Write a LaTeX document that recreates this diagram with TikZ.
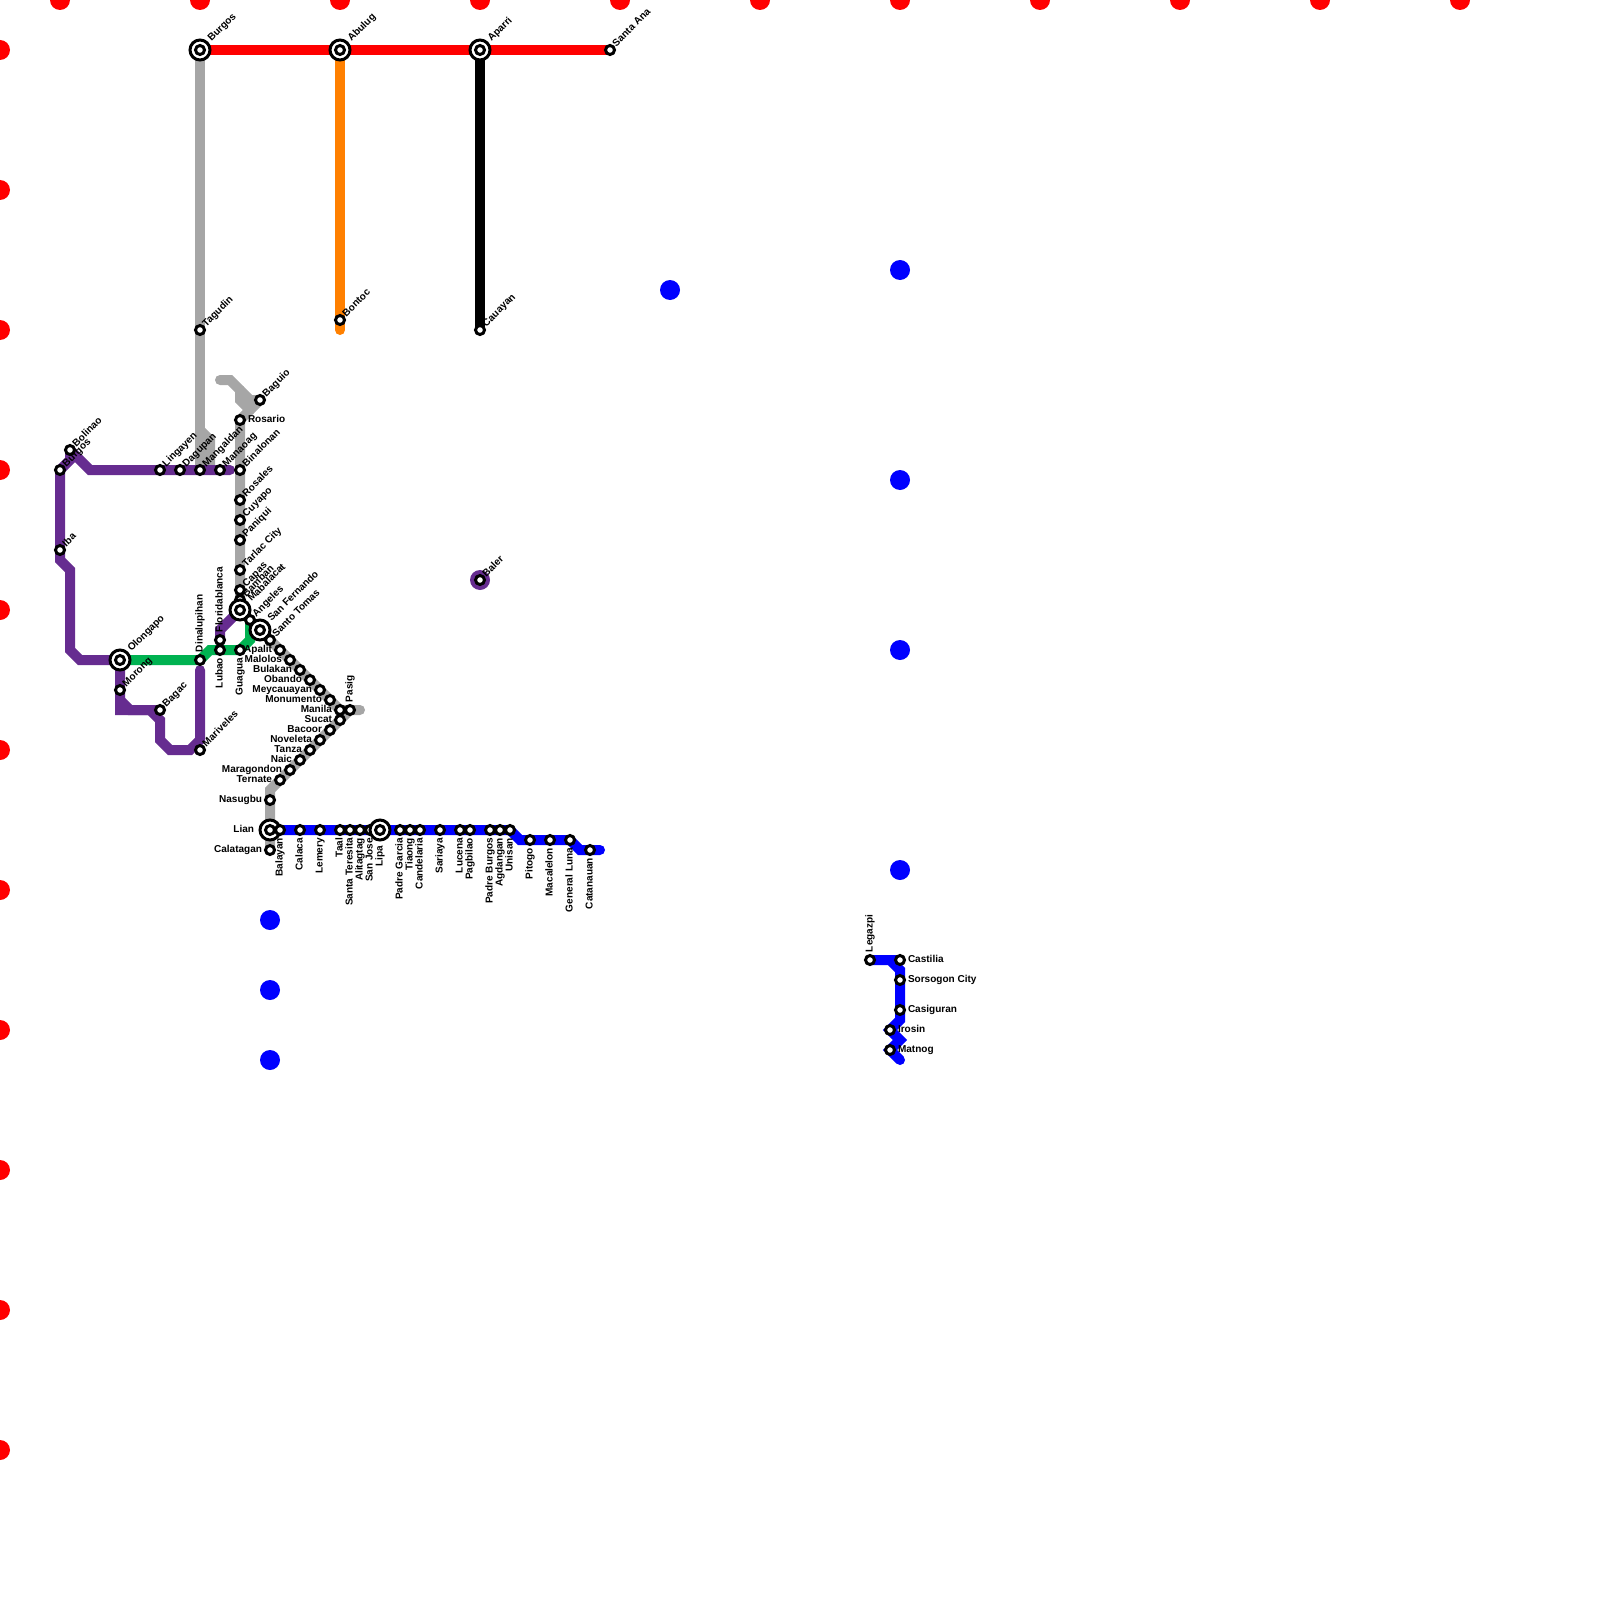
\documentclass[tikz,border=0pt]{standalone}
\usepackage{fontspec}
\setmainfont{Liberation Sans}
\usepackage{xcolor}
\usetikzlibrary{positioning}
\definecolor{metrored}{HTML}{FF0000}
\definecolor{metrogray}{HTML}{A6A6A6}
\definecolor{metroorange}{HTML}{FF8000}
\definecolor{metropurple}{HTML}{662C90}
\definecolor{metrogreen}{HTML}{00B251}
\definecolor{metroblue}{HTML}{0000FF}
\begin{document}
\begin{tikzpicture}[
  x=1mm, y=-1mm,
  font=\bfseries\fontsize{2.85}{3.4}\selectfont,
  track/.style={draw=#1, line width=1mm, line cap=round},
  stn/.style={circle, draw=black, fill=white, line width=0.3mm, minimum size=0.9mm, inner sep=0pt},
  hub/.style={circle, draw=black, fill=white, line width=0.3mm, minimum size=2mm, inner sep=0pt},
  dot/.style={circle, fill=#1, minimum size=2mm, inner sep=0pt},
  tag/.style={inner sep=0pt, outer sep=0pt},
  tagne/.style={tag, anchor=base west, xshift=0.64mm, yshift=0.28mm, rotate=45},
  hubne/.style={tag, anchor=base west, xshift=1.17mm, yshift=0.81mm, rotate=45},
  tage/.style={tag, anchor=base west, xshift=0.8mm, yshift=-0.25mm},
  tagw/.style={tag, anchor=base east, xshift=-0.8mm, yshift=-0.25mm},
  hubw/.style={tag, anchor=base east, xshift=-1.6mm, yshift=-0.25mm},
  tags/.style={tag, anchor=base east, xshift=0.25mm, yshift=-0.8mm, rotate=90},
  hubs/.style={tag, anchor=base east, xshift=0.25mm, yshift=-1.6mm, rotate=90},
  tagn/.style={tag, anchor=base west, xshift=0.25mm, yshift=0.8mm, rotate=90},
]
  \clip (0,0) rectangle (160,160);

  % --- guide dots ---------------------------------------------------
  \node[dot=metrored] (top1) at (6,0) {};
  \node[dot=metrored] (top2) at (20,0) {};
  \node[dot=metrored] (top3) at (34,0) {};
  \node[dot=metrored] (top4) at (48,0) {};
  \node[dot=metrored] (top5) at (62,0) {};
  \node[dot=metrored] (top6) at (76,0) {};
  \node[dot=metrored] (top7) at (90,0) {};
  \node[dot=metrored] (top8) at (104,0) {};
  \node[dot=metrored] (top9) at (118,0) {};
  \node[dot=metrored] (top10) at (132,0) {};
  \node[dot=metrored] (top11) at (146,0) {};
  \node[dot=metrored] (left1) at (0,5) {};
  \node[dot=metrored] (left2) at (0,19) {};
  \node[dot=metrored] (left3) at (0,33) {};
  \node[dot=metrored] (left4) at (0,47) {};
  \node[dot=metrored] (left5) at (0,61) {};
  \node[dot=metrored] (left6) at (0,75) {};
  \node[dot=metrored] (left7) at (0,89) {};
  \node[dot=metrored] (left8) at (0,103) {};
  \node[dot=metrored] (left9) at (0,117) {};
  \node[dot=metrored] (left10) at (0,131) {};
  \node[dot=metrored] (left11) at (0,145) {};
  \node[dot=metroblue] (blue1) at (67,29) {};
  \node[dot=metroblue] (blue2) at (90,27) {};
  \node[dot=metroblue] (blue3) at (90,48) {};
  \node[dot=metroblue] (blue4) at (90,65) {};
  \node[dot=metroblue] (blue5) at (90,87) {};
  \node[dot=metroblue] (blue6) at (27,92) {};
  \node[dot=metroblue] (blue7) at (27,99) {};
  \node[dot=metroblue] (blue8) at (27,106) {};
  \node[dot=metropurple] (balerdot) at (48,58) {};

  % --- tracks -------------------------------------------------------
  \draw[track=metrogray] (20,5) -- (20,47);
  \draw[track=metrogray] (20,43) -- (21,44) -- (21,47);
  \draw[track=metrogray] (22,38) -- (23,38) -- (25,40) -- (26,40);
  \draw[track=metrogray] (24,39) -- (24,40) -- (25,41);
  \draw[track=metrogray] (26,40) -- (24,42) -- (24,61) -- (34,71) -- (36,71);
  \draw[track=metrogray] (35,71) -- (28,78) -- (27,79) -- (27,85);
  \draw[track=metroorange] (34,5) -- (34,33);
  \draw[track=black] (48,5) -- (48,33);
  \draw[track=metrored] (20,5) -- (61,5);
  \draw[track=metropurple] (23,47) -- (9,47) -- (7,45);
  \draw[track=metropurple] (7,45) -- (7,46) -- (6,47) -- (6,56) -- (7,57) -- (7,65) -- (8,66) -- (12,66) -- (12,71) -- (16,71);
  \draw[track=metropurple] (12,70) -- (13,71) -- (15,71) -- (16,72) -- (16,74) -- (17,75) -- (19,75) -- (20,74) -- (20,67);
  \draw[track=metropurple] (22,64) -- (22,63) -- (24,61);
  \draw[track=metrogreen] (12,66) -- (20,66) -- (21,65) -- (24,65) -- (25,64) -- (25,62);
  \draw[track=metroblue] (27,83) -- (51,83) -- (52,84) -- (57,84) -- (58,85) -- (60,85);
  \draw[track=metroblue] (87,96) -- (89,96) -- (90,97) -- (90,102) -- (89,103) -- (90,104) -- (89,105) -- (90,106);
  \draw[track=metroblue] (89,96) -- (90,96);

  % --- north line ---------------------------------------------------
  \node[hub] (burgos) at (20,5) {}; \node[stn] at (burgos) {}; \node[hubne] (burgostag) at (burgos) {Burgos};
  \node[hub] (abulug) at (34,5) {}; \node[stn] at (abulug) {}; \node[hubne] (abulugtag) at (abulug) {Abulug};
  \node[hub] (aparri) at (48,5) {}; \node[stn] at (aparri) {}; \node[hubne] (aparritag) at (aparri) {Aparri};
  \node[stn] (santaana) at (61,5) {}; \node[tagne] (santaanatag) at (santaana) {Santa Ana};
  \node[stn] (tagudin) at (20,33) {}; \node[tagne] (tagudintag) at (tagudin) {Tagudin};
  \node[stn] (bontoc) at (34,32) {}; \node[tagne] (bontoctag) at (bontoc) {Bontoc};
  \node[stn] (cauayan) at (48,33) {}; \node[tagne] (cauayantag) at (cauayan) {Cauayan};
  \node[stn] (baler) at (48,58) {}; \node[tagne] (balertag) at (baler) {Baler};

  % --- west coast ---------------------------------------------------
  \node[stn] (burgosw) at (6,47) {}; \node[tagne] (burgoswtag) at (burgosw) {Burgos};
  \node[stn] (bolinao) at (7,45) {}; \node[tagne] (bolinaotag) at (bolinao) {Bolinao};
  \node[stn] (iba) at (6,55) {}; \node[tagne] (ibatag) at (iba) {Iba};
  \node[stn] (lingayen) at (16,47) {}; \node[tagne] (lingayentag) at (lingayen) {Lingayen};
  \node[stn] (dagupan) at (18,47) {}; \node[tagne] (dagupantag) at (dagupan) {Dagupan};
  \node[stn] (mangaldan) at (20,47) {}; \node[tagne] (mangaldantag) at (mangaldan) {Mangaldan};
  \node[stn] (manaoag) at (22,47) {}; \node[tagne] (manaoagtag) at (manaoag) {Manaoag};
  \node[hub] (olongapo) at (12,66) {}; \node[stn] at (olongapo) {}; \node[hubne] (olongapotag) at (olongapo) {Olongapo};
  \node[stn] (morong) at (12,69) {}; \node[tagne] (morongtag) at (morong) {Morong};
  \node[stn] (bagac) at (16,71) {}; \node[tagne] (bagactag) at (bagac) {Bagac};
  \node[stn] (mariveles) at (20,75) {}; \node[tagne] (marivelestag) at (mariveles) {Mariveles};
  \node[stn] (dinalupihan) at (20,66) {}; \node[tagn] (dinalupihantag) at (dinalupihan) {Dinalupihan};
  \node[stn] (floridablanca) at (22,64) {}; \node[tagn] (floridablancatag) at (floridablanca) {Floridablanca};
  \node[stn] (lubao) at (22,65) {}; \node[tags] (lubaotag) at (lubao) {Lubao};
  \node[stn] (guagua) at (24,65) {}; \node[tags] (guaguatag) at (guagua) {Guagua};

  % --- spine --------------------------------------------------------
  \node[stn] (baguio) at (26,40) {}; \node[tagne] (baguiotag) at (baguio) {Baguio};
  \node[stn] (rosario) at (24,42) {}; \node[tage] (rosariotag) at (rosario) {Rosario};
  \node[stn] (binalonan) at (24,47) {}; \node[tagne] (binalonantag) at (binalonan) {Binalonan};
  \node[stn] (rosales) at (24,50) {}; \node[tagne] (rosalestag) at (rosales) {Rosales};
  \node[stn] (cuyapo) at (24,52) {}; \node[tagne] (cuyapotag) at (cuyapo) {Cuyapo};
  \node[stn] (paniqui) at (24,54) {}; \node[tagne] (paniquitag) at (paniqui) {Paniqui};
  \node[stn] (tarlac) at (24,57) {}; \node[tagne] (tarlactag) at (tarlac) {Tarlac City};
  \node[stn] (capas) at (24,59) {}; \node[tagne] (capastag) at (capas) {Capas};
  \node[stn] (bamban) at (24,60) {}; \node[tagne] (bambantag) at (bamban) {Bamban};
  \node[hub] (mabalacat) at (24,61) {}; \node[stn] at (mabalacat) {}; \node[hubne] (mabalacattag) at (mabalacat) {Mabalacat};
  \node[stn] (angeles) at (25,62) {}; \node[tagne] (angelestag) at (angeles) {Angeles};
  \node[hub] (sanfernando) at (26,63) {}; \node[stn] at (sanfernando) {}; \node[hubne] (sanfernandotag) at (sanfernando) {San Fernando};
  \node[stn] (santotomas) at (27,64) {}; \node[tagne] (santotomastag) at (santotomas) {Santo Tomas};
  \node[stn] (apalit) at (28,65) {}; \node[tagw] (apalittag) at (apalit) {Apalit};
  \node[stn] (malolos) at (29,66) {}; \node[tagw] (malolostag) at (malolos) {Malolos};
  \node[stn] (bulakan) at (30,67) {}; \node[tagw] (bulakantag) at (bulakan) {Bulakan};
  \node[stn] (obando) at (31,68) {}; \node[tagw] (obandotag) at (obando) {Obando};
  \node[stn] (meycauayan) at (32,69) {}; \node[tagw] (meycauayantag) at (meycauayan) {Meycauayan};
  \node[stn] (monumento) at (33,70) {}; \node[tagw] (monumentotag) at (monumento) {Monumento};
  \node[stn] (manila) at (34,71) {}; \node[tagw] (manilatag) at (manila) {Manila};
  \node[stn] (pasig) at (35,71) {}; \node[tagn] (pasigtag) at (pasig) {Pasig};
  \node[stn] (sucat) at (34,72) {}; \node[tagw] (sucattag) at (sucat) {Sucat};
  \node[stn] (bacoor) at (33,73) {}; \node[tagw] (bacoortag) at (bacoor) {Bacoor};
  \node[stn] (noveleta) at (32,74) {}; \node[tagw] (noveletatag) at (noveleta) {Noveleta};
  \node[stn] (tanza) at (31,75) {}; \node[tagw] (tanzatag) at (tanza) {Tanza};
  \node[stn] (naic) at (30,76) {}; \node[tagw] (naictag) at (naic) {Naic};
  \node[stn] (maragondon) at (29,77) {}; \node[tagw] (maragondontag) at (maragondon) {Maragondon};
  \node[stn] (ternate) at (28,78) {}; \node[tagw] (ternatetag) at (ternate) {Ternate};
  \node[stn] (nasugbu) at (27,80) {}; \node[tagw] (nasugbutag) at (nasugbu) {Nasugbu};
  \node[hub] (lian) at (27,83) {}; \node[stn] at (lian) {}; \node[hubw] (liantag) at (lian) {Lian};
  \node[stn] (calatagan) at (27,85) {}; \node[tagw] (calatagantag) at (calatagan) {Calatagan};

  % --- south line ---------------------------------------------------
  \node[stn] (balayan) at (28,83) {}; \node[tags] (balayantag) at (balayan) {Balayan};
  \node[stn] (calaca) at (30,83) {}; \node[tags] (calacatag) at (calaca) {Calaca};
  \node[stn] (lemery) at (32,83) {}; \node[tags] (lemerytag) at (lemery) {Lemery};
  \node[stn] (taal) at (34,83) {}; \node[tags] (taaltag) at (taal) {Taal};
  \node[stn] (santateresita) at (35,83) {}; \node[tags] (santateresitatag) at (santateresita) {Santa Teresita};
  \node[stn] (alitagtag) at (36,83) {}; \node[tags] (alitagtagtag) at (alitagtag) {Alitagtag};
  \node[stn] (sanjose) at (37,83) {}; \node[tags] (sanjosetag) at (sanjose) {San Jose};
  \node[hub] (lipa) at (38,83) {}; \node[stn] at (lipa) {}; \node[hubs] (lipatag) at (lipa) {Lipa};
  \node[stn] (padregarcia) at (40,83) {}; \node[tags] (padregarciatag) at (padregarcia) {Padre Garcia};
  \node[stn] (tiaong) at (41,83) {}; \node[tags] (tiaongtag) at (tiaong) {Tiaong};
  \node[stn] (candelaria) at (42,83) {}; \node[tags] (candelariatag) at (candelaria) {Candelaria};
  \node[stn] (sariaya) at (44,83) {}; \node[tags] (sariayatag) at (sariaya) {Sariaya};
  \node[stn] (lucena) at (46,83) {}; \node[tags] (lucenatag) at (lucena) {Lucena};
  \node[stn] (pagbilao) at (47,83) {}; \node[tags] (pagbilaotag) at (pagbilao) {Pagbilao};
  \node[stn] (padreburgos) at (49,83) {}; \node[tags] (padreburgostag) at (padreburgos) {Padre Burgos};
  \node[stn] (agdangan) at (50,83) {}; \node[tags] (agdangantag) at (agdangan) {Agdangan};
  \node[stn] (unisan) at (51,83) {}; \node[tags] (unisantag) at (unisan) {Unisan};
  \node[stn] (pitogo) at (53,84) {}; \node[tags] (pitogotag) at (pitogo) {Pitogo};
  \node[stn] (macalelon) at (55,84) {}; \node[tags] (macalelontag) at (macalelon) {Macalelon};
  \node[stn] (generalluna) at (57,84) {}; \node[tags] (generallunatag) at (generalluna) {General Luna};
  \node[stn] (catanauan) at (59,85) {}; \node[tags] (catanauantag) at (catanauan) {Catanauan};

  % --- bicol --------------------------------------------------------
  \node[stn] (legazpi) at (87,96) {}; \node[tagn] (legazpitag) at (legazpi) {Legazpi};
  \node[stn] (castilia) at (90,96) {}; \node[tage] (castiliatag) at (castilia) {Castilia};
  \node[stn] (sorsogon) at (90,98) {}; \node[tage] (sorsogontag) at (sorsogon) {Sorsogon City};
  \node[stn] (casiguran) at (90,101) {}; \node[tage] (casigurantag) at (casiguran) {Casiguran};
  \node[stn] (irosin) at (89,103) {}; \node[tage] (irosintag) at (irosin) {Irosin};
  \node[stn] (matnog) at (89,105) {}; \node[tage] (matnogtag) at (matnog) {Matnog};
\end{tikzpicture}
\end{document}
